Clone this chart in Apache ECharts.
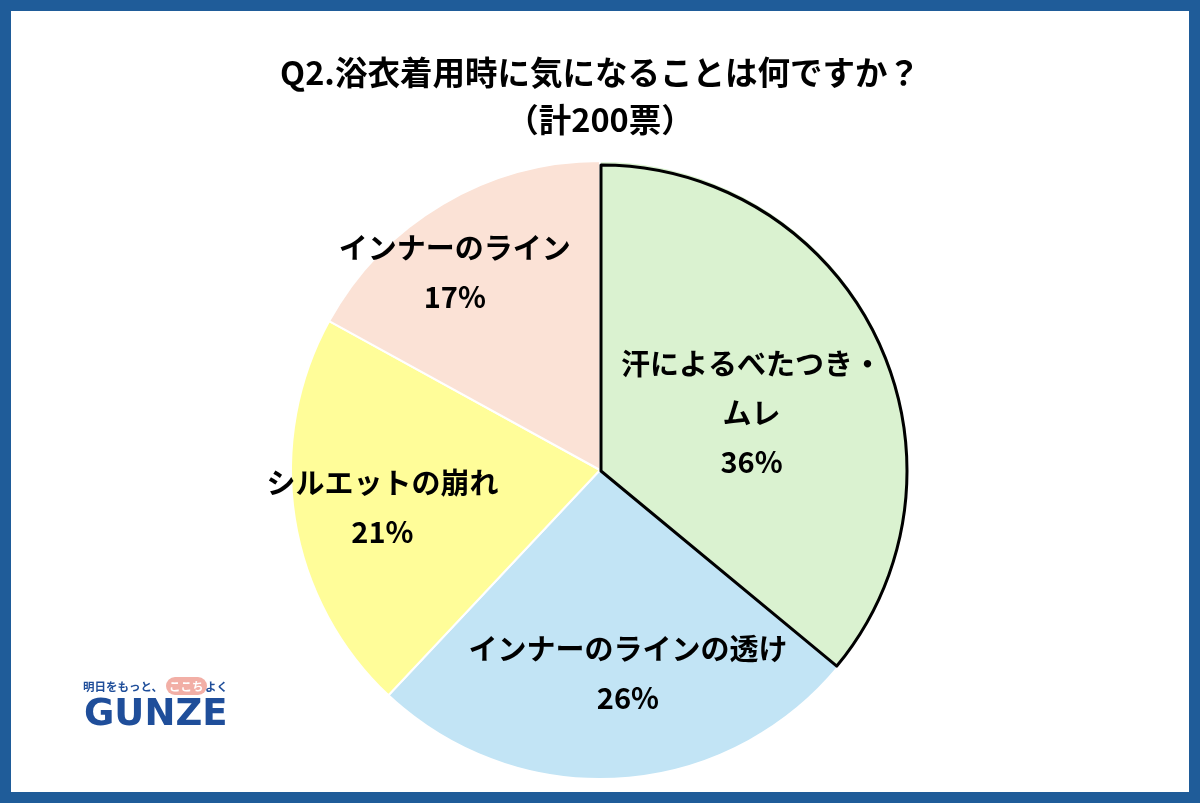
<!DOCTYPE html>
<html>
<head>
<meta charset="utf-8">
<script src="https://cdn.jsdelivr.net/npm/echarts@6/dist/echarts.min.js"></script>
<style>
html,body{margin:0;padding:0;background:#fff;}
#c{width:1200px;height:803px;}
</style>
</head>
<body>
<div id="c"></div>
<script>
const categories = ['汗によるべたつき・\nムレ', 'インナーのラインの透け', 'シルエットの崩れ', 'インナーのライン'];
const values = [36, 26, 21, 17];
const colors = ['#DAF2D0', '#C2E4F5', '#FFFD99', '#FBE2D6'];
const titleText = 'Q2.浴衣着用時に気になることは何ですか？';
const subText = '（計200票）';
const labelShift = [[9, 10], [18, 46], [-62, 13], [-65, -62]];

const chart = echarts.init(document.getElementById('c'), null, {renderer: 'canvas'});
const jp = '"Noto Sans CJK JP", "Noto Sans", sans-serif';

const data = categories.map((n, i) => ({
  name: n,
  value: values[i],
  itemStyle: {color: colors[i], borderColor: '#fff', borderWidth: 2}
}));
const outline = categories.map((n, i) => ({
  name: n,
  value: values[i],
  itemStyle: i === 0
    ? {color: 'rgba(0,0,0,0)', borderColor: '#000', borderWidth: 3}
    : {color: 'rgba(0,0,0,0)', borderWidth: 0}
}));

chart.setOption({
  backgroundColor: '#fff',
  animation: false,
  title: [
    {text: titleText, left: 'center', top: 51,
     textStyle: {fontFamily: jp, fontSize: 32.5, fontWeight: 'bold', color: '#000'}},
    {text: subText, left: 'center', top: 98,
     textStyle: {fontFamily: jp, fontSize: 32.5, fontWeight: 'bold', color: '#000'}}
  ],
  series: [{
    type: 'pie',
    center: [600, 470],
    radius: [0, 309],
    startAngle: 90,
    clockwise: true,
    data: data,
    label: {
      show: true,
      position: 'inside',
      formatter: p => p.name + '\n' + p.value + '%',
      fontFamily: jp,
      fontSize: 29,
      fontWeight: 'bold',
      color: '#000',
      lineHeight: 49,
      align: 'center'
    },
    labelLine: {show: false},
    labelLayout: function (params) {
      const s = labelShift[params.dataIndex];
      return {dx: s[0], dy: s[1]};
    },
    emphasis: {disabled: true},
    z: 2
  }, {
    type: 'pie',
    center: [601, 471],
    radius: [0, 306],
    startAngle: 90,
    clockwise: true,
    data: outline,
    label: {show: false},
    labelLine: {show: false},
    silent: true,
    emphasis: {disabled: true},
    z: 3
  }],
  graphic: [
    {type: 'rect', left: 0, top: 0, silent: true,
     shape: {x: 5.5, y: 5.5, width: 1189, height: 792},
     style: {fill: 'none', stroke: '#1F5C99', lineWidth: 11}},
    {type: 'rect', silent: true,
     shape: {x: 166, y: 677, width: 41, height: 18, r: 9},
     style: {fill: '#F2AFA6'}},
    {type: 'text', silent: true, x: 83, y: 687,
     style: {text: '明日をもっと、', fontFamily: jp, fontSize: 11.5, fontWeight: 'bold', fill: '#1F4E9A', verticalAlign: 'middle'}},
    {type: 'text', silent: true, x: 169, y: 687,
     style: {text: 'ここち', fontFamily: jp, fontSize: 11.5, fontWeight: 'bold', fill: '#fff', verticalAlign: 'middle'}},
    {type: 'text', silent: true, x: 205, y: 687,
     style: {text: 'よく', fontFamily: jp, fontSize: 11.5, fontWeight: 'bold', fill: '#1F4E9A', verticalAlign: 'middle'}},
    {type: 'text', silent: true, x: 84, y: 715,
     style: {text: 'GUNZE', fontFamily: '"DejaVu Sans", sans-serif', fontSize: 37, fontWeight: 'bold', fill: '#1F4E9A', verticalAlign: 'middle'}}
  ]
});
</script>
</body>
</html>
